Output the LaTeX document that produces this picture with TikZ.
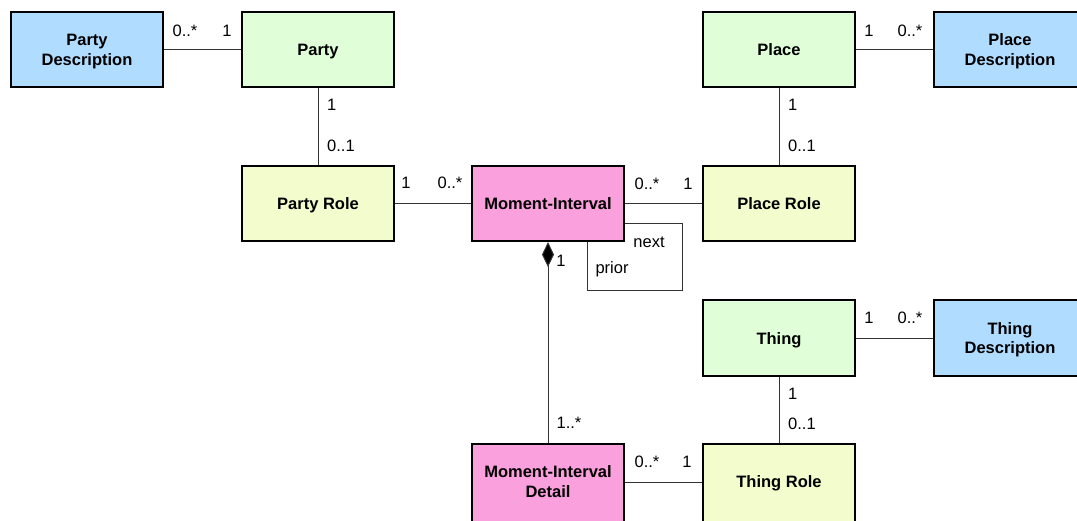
\documentclass[tikz,border=0pt]{standalone}
\usepackage{fontspec}
\setmainfont{Liberation Sans}
\usetikzlibrary{arrows.meta}
\definecolor{descblue}{RGB}{176,220,255}
\definecolor{thinggreen}{RGB}{224,255,216}
\definecolor{roleyellow}{RGB}{242,252,204}
\definecolor{mipink}{RGB}{250,160,220}
\tikzset{
  umlbox/.style={draw=black, line width=1.6pt, minimum width=152.5pt, minimum height=75.5pt,
    inner sep=2pt, align=center, text height=12pt, text depth=0pt,
    font=\fontsize{16.5}{19.5}\selectfont\bfseries},
  twoline/.style={text height=31.5pt},
  conn/.style={draw=black!80, line width=1pt},
  mult/.style={inner sep=0pt, text height=11.8pt, text depth=0pt, anchor=center,
    font=\fontsize{16.5}{19.5}\selectfont},
  rolename/.style={inner sep=0pt, anchor=base, font=\fontsize{16.5}{19.5}\selectfont}
}
\begin{document}
\begin{tikzpicture}[x=1pt,y=-1pt]
\useasboundingbox (0,0) rectangle (1077,520);
\clip (0,0) rectangle (1077,520);
\fill[white] (0,0) rectangle (1077,520);
% boxes
\node[umlbox, twoline, fill=descblue] (pd) at (87,49.5) {Party\\Description};
\node[umlbox, fill=thinggreen] (party) at (318,49.5) {Party};
\node[umlbox, fill=thinggreen] (place) at (779,49.5) {Place};
\node[umlbox, twoline, fill=descblue] (pld) at (1010,49.5) {Place\\Description};
\node[umlbox, fill=roleyellow] (pr) at (318,203.5) {Party Role};
\node[umlbox, fill=mipink] (mi) at (548,203.5) {Moment-Interval};
\node[umlbox, fill=roleyellow] (plr) at (779,203.5) {Place Role};
\node[umlbox, fill=thinggreen] (thing) at (779,338) {Thing};
\node[umlbox, twoline, fill=descblue] (td) at (1010,338) {Thing\\Description};
\node[umlbox, twoline, fill=mipink, minimum height=80pt, text depth=5pt] (mid) at (548,484) {Moment-Interval\\Detail};
\node[umlbox, fill=roleyellow, minimum height=80pt, text depth=5pt] (tr) at (779,484) {Thing Role};
% connectors
\draw[conn] (pd) -- (party);
\draw[conn] (place) -- (pld);
\draw[conn] (party) -- (pr);
\draw[conn] (place) -- (plr);
\draw[conn] (pr) -- (mi);
\draw[conn] (mi) -- (plr);
\draw[conn] (thing) -- (td);
\draw[conn] (thing) -- (tr);
\draw[conn] ([yshift=2pt]mid.east) -- ([yshift=2pt]tr.west);
\draw[conn, {Diamond[length=25pt,width=12pt,fill=black]}-] (mi) -- (mid);
\coordinate (loopc) at (682,290);
\draw[conn] ([yshift=-19.5pt]mi.east) -| (loopc) -| ([xshift=39pt]mi.south);
% multiplicities
\node[mult] (m1) at (185,31) {0..*};
\node[mult] (m2) at (227,31) {1};
\node[mult] (m3) at (869,31) {1};
\node[mult] (m4) at (910,31) {0..*};
\node[mult, anchor=west] (m5) at (327,105) {1};
\node[mult, anchor=west] (m6) at (327,146) {0..1};
\node[mult, anchor=west] (m7) at (788,105) {1};
\node[mult, anchor=west] (m8) at (788,146) {0..1};
\node[mult] (m9) at (406,183) {1};
\node[mult] (m10) at (450,183) {0..*};
\node[mult] (m11) at (647,184) {0..*};
\node[mult] (m12) at (688,184) {1};
\node[mult] (m13) at (561,261) {1};
\node[mult] (m14) at (569,423) {1..*};
\node[mult] (m15) at (869,318) {1};
\node[mult] (m16) at (910,318) {0..*};
\node[mult, anchor=west] (m17) at (788,394) {1};
\node[mult, anchor=west] (m18) at (788,424) {0..1};
\node[mult] (m19) at (647,462) {0..*};
\node[mult] (m20) at (687,462) {1};
\node[rolename] (rn1) at (649,247) {next};
\node[rolename] (rn2) at (612,273) {prior};
\end{tikzpicture}
\end{document}
